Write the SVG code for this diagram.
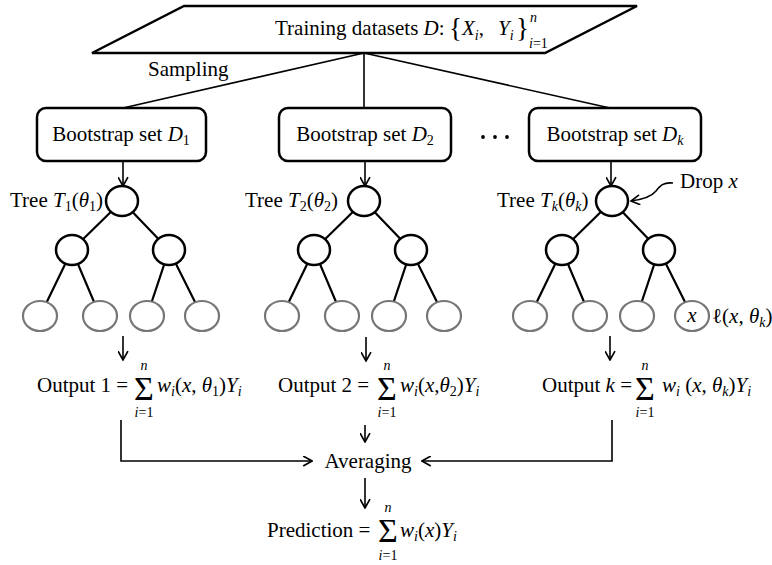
<svg xmlns="http://www.w3.org/2000/svg" width="772" height="565" viewBox="0 0 772 565">
<style>
text{font-family:"Liberation Serif","Times New Roman",serif;font-size:21px;fill:#000}
.it{font-style:italic}
.s{font-size:14px}
.sig{font-size:34px}
.in{fill:#fff;stroke:#000;stroke-width:2.5}
.leaf{fill:#fff;stroke:#777;stroke-width:2.2}
.box{fill:#fff;stroke:#000;stroke-width:2.5}
.e{stroke:#000;stroke-width:2.2;fill:none}
.c{stroke:#000;stroke-width:1.6;fill:none}
.a{stroke:#000;stroke-width:1.6;fill:none;marker-end:url(#ah)}
</style>
<defs>
<marker id="ah" viewBox="0 0 10 10" refX="9" refY="5" markerWidth="11" markerHeight="11" markerUnits="userSpaceOnUse" orient="auto">
<path d="M1,0.5 L9,5 L1,9.5" fill="none" stroke="#000" stroke-width="1.5"/>
</marker>
</defs>
<rect width="772" height="565" fill="#fff"/>

<g id="connectors">
<path class="c" d="M364,53 L123,108"/>
<path class="c" d="M364,53 V108"/>
<path class="c" d="M364,53 L610,108"/>
<path class="a" d="M123,161 V186"/>
<path class="a" d="M365,161 V186"/>
<path class="a" d="M611,161 V186"/>
<path class="e" d="M122,201 L72,250 M122,201 L169,250 M72,250 L40,316 M72,250 L100,316 M169,250 L147,316 M169,250 L202,316"/>
<path class="e" d="M364,201 L314,250 M364,201 L411,250 M314,250 L282,316 M314,250 L342,316 M411,250 L389,316 M411,250 L444,316"/>
<path class="e" d="M612,201 L562,250 M612,201 L659,250 M562,250 L530,316 M562,250 L590,316 M659,250 L637,316 M659,250 L692,316"/>
<path class="a" d="M673,183 C663,182 660,186 656,191 C652,196 646,199 631,201"/>
<path class="a" d="M123,336 V360"/>
<path class="a" d="M366,337 V361"/>
<path class="a" d="M610,336 V360"/>
<path class="a" d="M121,420 V461 H312"/>
<path class="a" d="M612,420 V461 H422"/>
<path class="a" d="M365,425 V442"/>
<path class="a" d="M365,478 V508"/>
</g>

<g id="training">
<polygon class="box" points="184,6 637,6 545,53 92,53"/>
<text x="275" y="35">Training datasets <tspan class="it">D</tspan>: </text>
<text x="449" y="37" style="font-size:27px">{</text>
<text x="462" y="35" class="it">X<tspan class="s" dy="5">i</tspan><tspan dy="-5" style="font-style:normal">,</tspan></text>
<text x="498" y="35" class="it">Y<tspan class="s" dy="5">i</tspan></text>
<text x="516" y="37" style="font-size:27px">}</text>
<text x="530" y="22" class="it s">n</text>
<text x="529" y="48" class="s"><tspan class="it">i</tspan>=1</text>
</g>
<text x="148" y="76">Sampling</text>

<g id="boot1">
<rect class="box" x="37" y="108" width="169" height="53" rx="9"/>
<text x="121" y="141" text-anchor="middle">Bootstrap set <tspan class="it">D</tspan><tspan class="s" dy="4">1</tspan></text>
</g>
<g id="boot2">
<rect class="box" x="279" y="108" width="172" height="53" rx="9"/>
<text x="365" y="141" text-anchor="middle">Bootstrap set <tspan class="it">D</tspan><tspan class="s" dy="4">2</tspan></text>
</g>
<g id="bootk">
<rect class="box" x="529" y="108" width="172" height="53" rx="9"/>
<text x="615" y="141" text-anchor="middle">Bootstrap set <tspan class="it">D</tspan><tspan class="s it" dy="4">k</tspan></text>
</g>
<g id="ellipsis">
<circle cx="483" cy="137" r="1.9"/>
<circle cx="495" cy="137" r="1.9"/>
<circle cx="507" cy="137" r="1.9"/>
</g>

<g id="tree1">
<text x="10" y="207">Tree <tspan class="it">T</tspan><tspan class="s" dy="4">1</tspan><tspan dy="-4">(</tspan><tspan class="it">θ</tspan><tspan class="s" dy="4">1</tspan><tspan dy="-4">)</tspan></text>
<ellipse class="in" cx="122" cy="201" rx="16" ry="15"/>
<ellipse class="in" cx="72" cy="250" rx="16" ry="15"/>
<ellipse class="in" cx="169" cy="250" rx="16" ry="15"/>
<ellipse class="leaf" cx="40" cy="316" rx="17" ry="15"/>
<ellipse class="leaf" cx="100" cy="316" rx="17" ry="15"/>
<ellipse class="leaf" cx="147" cy="316" rx="17" ry="15"/>
<ellipse class="leaf" cx="202" cy="316" rx="17" ry="15"/>
</g>
<g id="tree2">
<text x="245" y="207">Tree <tspan class="it">T</tspan><tspan class="s" dy="4">2</tspan><tspan dy="-4">(</tspan><tspan class="it">θ</tspan><tspan class="s" dy="4">2</tspan><tspan dy="-4">)</tspan></text>
<ellipse class="in" cx="364" cy="201" rx="16" ry="15"/>
<ellipse class="in" cx="314" cy="250" rx="16" ry="15"/>
<ellipse class="in" cx="411" cy="250" rx="16" ry="15"/>
<ellipse class="leaf" cx="282" cy="316" rx="17" ry="15"/>
<ellipse class="leaf" cx="342" cy="316" rx="17" ry="15"/>
<ellipse class="leaf" cx="389" cy="316" rx="17" ry="15"/>
<ellipse class="leaf" cx="444" cy="316" rx="17" ry="15"/>
</g>
<g id="treek">
<text x="497" y="207">Tree <tspan class="it">T</tspan><tspan class="s it" dy="4">k</tspan><tspan dy="-4">(</tspan><tspan class="it">θ</tspan><tspan class="s it" dy="4">k</tspan><tspan dy="-4">)</tspan></text>
<ellipse class="in" cx="612" cy="201" rx="16" ry="15"/>
<ellipse class="in" cx="562" cy="250" rx="16" ry="15"/>
<ellipse class="in" cx="659" cy="250" rx="16" ry="15"/>
<ellipse class="leaf" cx="530" cy="316" rx="17" ry="15"/>
<ellipse class="leaf" cx="590" cy="316" rx="17" ry="15"/>
<ellipse class="leaf" cx="637" cy="316" rx="17" ry="15"/>
<ellipse class="leaf" cx="692" cy="316" rx="17" ry="15"/>
<text x="692" y="322" text-anchor="middle" class="it">x</text>
<text x="712" y="323">ℓ(<tspan class="it">x</tspan>, <tspan class="it">θ</tspan><tspan class="s it" dy="4">k</tspan><tspan dy="-4">)</tspan></text>
<text x="680" y="188">Drop <tspan class="it">x</tspan></text>
</g>

<g id="output1">
<text x="37" y="392">Output 1 =</text>
<text x="144" y="400" class="sig" text-anchor="middle">Σ</text>
<text x="144" y="370" class="s it" text-anchor="middle">n</text>
<text x="144" y="417" class="s" text-anchor="middle"><tspan class="it">i</tspan>=1</text>
<text x="157" y="392"><tspan class="it">w</tspan><tspan class="s it" dy="4">i</tspan><tspan dy="-4">(</tspan><tspan class="it">x</tspan>, <tspan class="it">θ</tspan><tspan class="s" dy="4">1</tspan><tspan dy="-4">)</tspan><tspan class="it">Y</tspan><tspan class="s it" dy="4">i</tspan></text>
</g>
<g id="output2">
<text x="278" y="392">Output 2 =</text>
<text x="387" y="400" class="sig" text-anchor="middle">Σ</text>
<text x="387" y="370" class="s it" text-anchor="middle">n</text>
<text x="387" y="417" class="s" text-anchor="middle"><tspan class="it">i</tspan>=1</text>
<text x="400" y="392"><tspan class="it">w</tspan><tspan class="s it" dy="4">i</tspan><tspan dy="-4">(</tspan><tspan class="it">x</tspan>,<tspan class="it">θ</tspan><tspan class="s" dy="4">2</tspan><tspan dy="-4">)</tspan><tspan class="it">Y</tspan><tspan class="s it" dy="4">i</tspan></text>
</g>
<g id="outputk">
<text x="542" y="392">Output <tspan class="it">k</tspan> =</text>
<text x="645" y="400" class="sig" text-anchor="middle">Σ</text>
<text x="645" y="370" class="s it" text-anchor="middle">n</text>
<text x="645" y="417" class="s" text-anchor="middle"><tspan class="it">i</tspan>=1</text>
<text x="662" y="392"><tspan class="it">w</tspan><tspan class="s it" dy="4">i</tspan><tspan dy="-4"> (</tspan><tspan class="it">x</tspan>, <tspan class="it">θ</tspan><tspan class="s it" dy="4">k</tspan><tspan dy="-4">)</tspan><tspan class="it">Y</tspan><tspan class="s it" dy="4">i</tspan></text>
</g>

<g id="averaging">
<text x="368" y="468" text-anchor="middle">Averaging</text>
</g>
<g id="prediction">
<text x="267" y="537">Prediction =</text>
<text x="388" y="542" class="sig" text-anchor="middle">Σ</text>
<text x="388" y="512" class="s it" text-anchor="middle">n</text>
<text x="388" y="560" class="s" text-anchor="middle"><tspan class="it">i</tspan>=1</text>
<text x="400" y="537"><tspan class="it">w</tspan><tspan class="s it" dy="4">i</tspan><tspan dy="-4">(</tspan><tspan class="it">x</tspan>)<tspan class="it">Y</tspan><tspan class="s it" dy="4">i</tspan></text>
</g>
</svg>
